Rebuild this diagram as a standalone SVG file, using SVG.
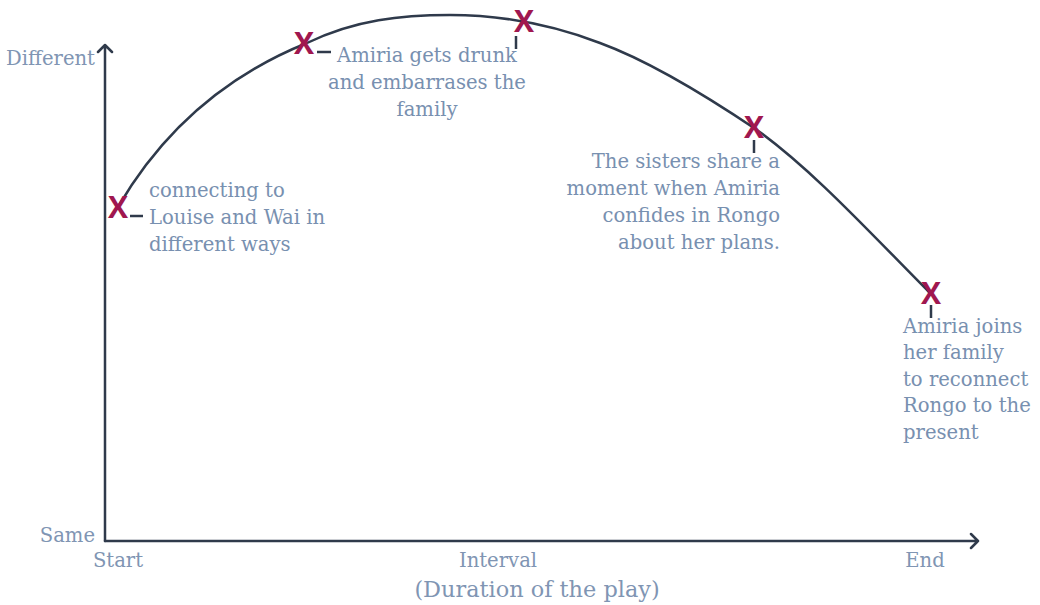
<svg xmlns="http://www.w3.org/2000/svg" width="1040" height="605" viewBox="0 0 1040 605">
  <style>
    .axis { fill: none; stroke: #2f3a4b; stroke-width: 2.5; stroke-linecap: round; stroke-linejoin: round; }
    .curve { fill: none; stroke: #2f3a4b; stroke-width: 2.5; }
    .tick { stroke: #2f3a4b; stroke-width: 2.5; }
    .mark { font-family: "Open Sans", "Liberation Sans", sans-serif; font-weight: 700; font-size: 30px; fill: #a0174f; text-anchor: middle; }
    .lbl { font-family: "DejaVu Serif", "Liberation Serif", serif; font-size: 19.6px; fill: #7890b0; }
    .ax { font-family: "DejaVu Serif", "Liberation Serif", serif; font-size: 19.6px; fill: #8095b3; }
    .caption { font-size: 22.4px; }
  </style>
  <rect width="1040" height="605" fill="#ffffff"/>

  <!-- axes -->
  <g id="axes">
    <path class="axis" d="M105,541 V45 M98,52 L105,45 L112,52"/>
    <path class="axis" d="M105,541 H978 M971,534 L978,541 L971,548"/>
    <text class="ax" x="95" y="65" text-anchor="end">Different</text>
    <text class="ax" x="95" y="542" text-anchor="end">Same</text>
    <text class="ax" x="118" y="567" text-anchor="middle">Start</text>
    <text class="ax" x="498" y="567" text-anchor="middle">Interval</text>
    <text class="ax" x="925" y="567" text-anchor="middle">End</text>
    <text class="ax caption" x="537" y="597" text-anchor="middle">(Duration of the play)</text>
  </g>

  <!-- journey curve and leader ticks -->
  <g id="connectors">
    <path class="curve" d="M118,207 C170,118 240,70 307,43 C355,19.5 402,15 450,15 C500,15 550,24 600,43 C652,62 708,97 757,130 C815,172 872,235 930,293"/>
    <line class="tick" x1="130" y1="216" x2="143" y2="216"/>
    <line class="tick" x1="317" y1="52" x2="331" y2="52"/>
    <line class="tick" x1="516" y1="36" x2="516" y2="49"/>
    <line class="tick" x1="754" y1="140" x2="754" y2="153"/>
    <line class="tick" x1="931" y1="305" x2="931" y2="318"/>
  </g>

  <g id="event-start">
    <text class="mark" x="118" y="218">X</text>
    <text class="lbl" x="149" y="197">connecting to</text>
    <text class="lbl" x="149" y="224">Louise and Wai in</text>
    <text class="lbl" x="149" y="251">different ways</text>
  </g>

  <g id="event-drunk">
    <text class="mark" x="304" y="54">X</text>
    <text class="lbl" x="427" y="62" text-anchor="middle">Amiria gets drunk</text>
    <text class="lbl" x="427" y="89" text-anchor="middle">and embarrases the</text>
    <text class="lbl" x="427" y="116" text-anchor="middle">family</text>
  </g>

  <g id="event-peak">
    <text class="mark" x="524" y="32">X</text>
  </g>

  <g id="event-sisters">
    <text class="mark" x="754" y="138">X</text>
    <text class="lbl" x="780" y="168" text-anchor="end">The sisters share a</text>
    <text class="lbl" x="780" y="195" text-anchor="end">moment when Amiria</text>
    <text class="lbl" x="780" y="222" text-anchor="end">confides in Rongo</text>
    <text class="lbl" x="780" y="249" text-anchor="end">about her plans.</text>
  </g>

  <g id="event-end">
    <text class="mark" x="931" y="304">X</text>
    <text class="lbl" x="903" y="333">Amiria joins</text>
    <text class="lbl" x="903" y="359">her family</text>
    <text class="lbl" x="903" y="386">to reconnect</text>
    <text class="lbl" x="903" y="412">Rongo to the</text>
    <text class="lbl" x="903" y="439">present</text>
  </g>
</svg>
